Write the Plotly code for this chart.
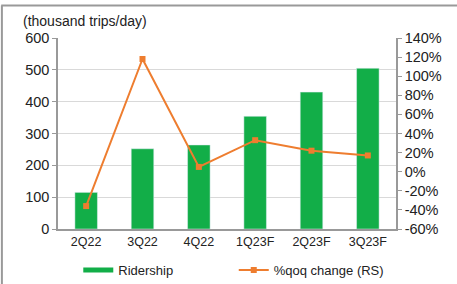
import plotly.graph_objects as go

categories = ["2Q22", "3Q22", "4Q22", "1Q23F", "2Q23F", "3Q23F"]
ridership = [115, 252, 264, 354, 430, 505]
qoq_change = [-36, 118, 5, 33, 22, 17]
left_ticks = [0, 100, 200, 300, 400, 500, 600]
right_ticks = [-60, -40, -20, 0, 20, 40, 60, 80, 100, 120, 140]

GREEN = "#12AE48"
ORANGE = "#EE7D2F"
FONT = "Liberation Sans, Arial, sans-serif"

fig = go.Figure()
fig.add_trace(go.Bar(x=categories, y=ridership, marker_color=GREEN, showlegend=False,
                     name="Ridership"))
# legend proxy for bar series (wide thin rectangle)
fig.add_trace(go.Scatter(x=[None], y=[None], mode="lines", line=dict(color=GREEN, width=5),
                         name="Ridership", legend="legend"))
fig.add_trace(go.Scatter(x=categories, y=qoq_change, yaxis="y2", mode="lines+markers",
                         line=dict(color=ORANGE, width=2),
                         marker=dict(symbol="square", size=6, color=ORANGE),
                         name="%qoq change (RS)", legend="legend2"))

legend_common = dict(orientation="h", yanchor="middle", y=-0.215, xanchor="left",
                     font=dict(size=13), bgcolor="rgba(0,0,0,0)", itemwidth=30)

fig.update_layout(
    width=457, height=284,
    margin=dict(l=58, r=61, t=38, b=55, autoexpand=False),
    paper_bgcolor="white", plot_bgcolor="white",
    font=dict(family=FONT, size=13, color="#222"),
    bargap=0.6,
    xaxis=dict(showline=True, linecolor="#999", linewidth=1.5, ticks="",
               tickfont=dict(size=12.5), showgrid=False),
    yaxis=dict(range=[0, 600], tickvals=left_ticks, showline=True, linecolor="#999",
               linewidth=1.5, ticks="outside", ticklen=4, tickcolor="#999",
               gridcolor="#D9D9D9", gridwidth=1, zeroline=False,
               tickfont=dict(size=14.5)),
    yaxis2=dict(range=[-60, 140], tickvals=right_ticks,
                ticktext=[f"{v}%" for v in right_ticks], overlaying="y", side="right",
                showline=True, linecolor="#999", linewidth=1.5, ticks="outside",
                ticklen=4, tickcolor="#999", showgrid=False, zeroline=False,
                tickfont=dict(size=14.5)),
    legend=dict(legend_common, x=0.06),
    legend2=dict(legend_common, x=0.52),
    shapes=[
        dict(type="line", xref="paper", yref="paper", x0=-0.168, x1=1.2,
             y0=1.17, y1=1.17, line=dict(color="#999", width=2)),
        dict(type="line", xref="paper", yref="paper", x0=-0.166, x1=-0.166,
             y0=1.17, y1=-0.3, line=dict(color="#999", width=2)),
    ],
    annotations=[dict(text="(thousand trips/day)", xref="paper", yref="paper",
                      x=-0.11, y=1.035, xanchor="left", yanchor="bottom",
                      showarrow=False, font=dict(size=14))],
)

fig.write_html("out.html", config={"displayModeBar": False},
               post_script="document.body.style.margin='0px';"
                           "document.body.style.overflow='hidden';")
